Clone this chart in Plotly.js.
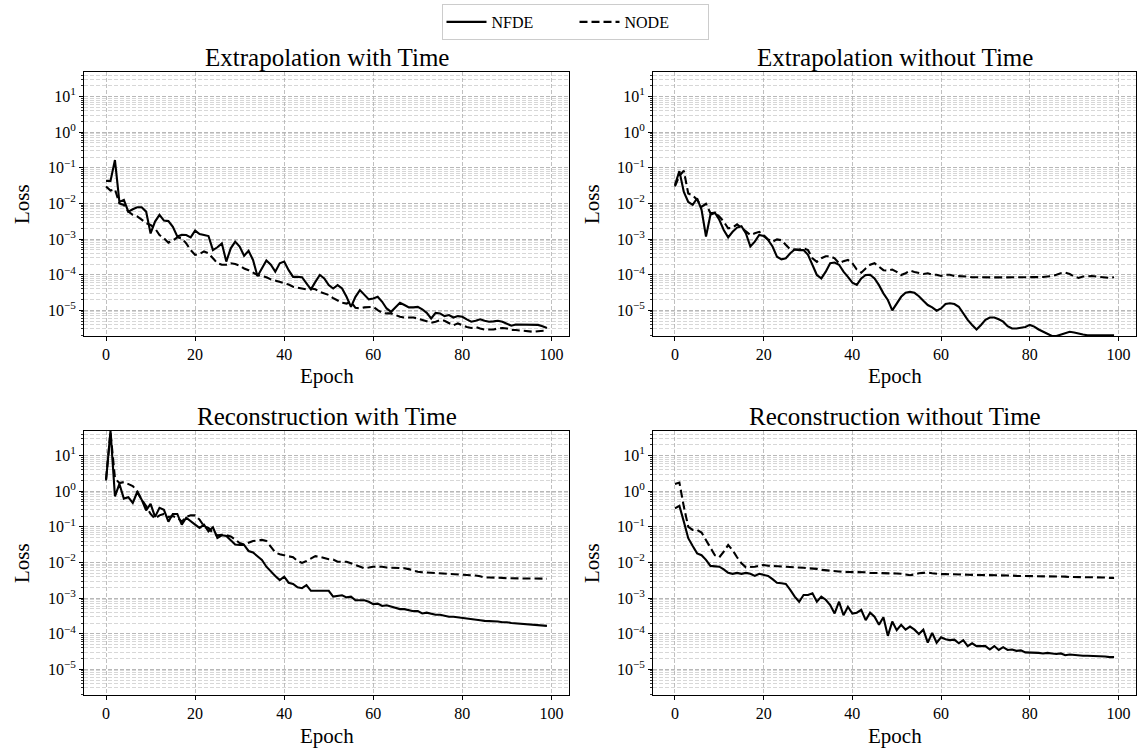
<!DOCTYPE html>
<html><head><meta charset="utf-8">
<script src="https://cdn.plot.ly/plotly-3.0.1.min.js"></script>
<style>html,body{margin:0;padding:0;background:#fff}#chart{width:1139px;height:752px}</style>
</head><body><div id="chart"></div>
<script>
const epochs = [0,1,2,3,4,5,6,7,8,9,10,11,12,13,14,15,16,17,18,19,20,21,22,23,24,25,26,27,28,29,30,31,32,33,34,35,36,37,38,39,40,41,42,43,44,45,46,47,48,49,50,51,52,53,54,55,56,57,58,59,60,61,62,63,64,65,66,67,68,69,70,71,72,73,74,75,76,77,78,79,80,81,82,83,84,85,86,87,88,89,90,91,92,93,94,95,96,97,98,99];

const seriesNames = ["NFDE", "NODE"];
const panelTitles = ["Extrapolation with Time", "Extrapolation without Time", "Reconstruction with Time", "Reconstruction without Time"];
const xTickVals = [0, 20, 40, 60, 80, 100];
const yTickVals = [10, 1, 0.1, 0.01, 0.001, 0.0001, 0.00001];
const yTickText = ["10<sup>1</sup>", "10<sup>0</sup>", "10<sup>\u22121</sup>", "10<sup>\u22122</sup>", "10<sup>\u22123</sup>", "10<sup>\u22124</sup>", "10<sup>\u22125</sup>"];

// Extrapolation with Time
const extWithNFDE = [0.043,0.043,0.165,0.011,0.0126,0.0059,0.0069,0.0078,0.0078,0.0059,
0.00144,0.0031,0.0048,0.0033,0.0032,0.0022,0.00118,0.00131,0.0013,0.00112,
0.00173,0.00139,0.0013,0.00122,0.00049,0.00059,0.00076,0.000234,0.00055,0.00085,
0.00062,0.00034,0.00047,0.00026,0.000091,0.00015,0.00025,0.00019,0.000122,0.00021,
0.000234,0.000134,0.000087,0.000087,0.000085,0.000057,0.000039,0.000063,0.000098,0.000079,
0.000051,0.000041,0.000051,0.000041,0.000024,0.0000125,0.000024,0.000037,0.000027,0.0000203,
0.0000215,0.000024,0.0000174,0.0000113,0.0000091,0.0000125,0.0000163,0.0000141,0.0000121,0.0000121,
0.0000125,0.0000107,0.0000085,0.0000059,0.0000085,0.0000082,0.0000069,0.0000074,0.0000063,0.0000069,
0.0000066,0.0000056,0.0000048,0.0000051,0.0000056,0.0000051,0.0000048,0.0000049,0.0000051,0.0000048,
0.0000043,0.0000037,0.000004,0.000004,0.0000039,0.0000039,0.0000039,0.0000039,0.0000036,0.0000032];
const extWithNODE = [0.030,0.023,0.025,0.010,0.0091,0.0059,0.0048,0.0043,0.0035,0.0028,
0.0025,0.0020,0.0013,0.00105,0.00079,0.00091,0.00112,0.00105,0.00076,0.00049,
0.00036,0.00038,0.00045,0.0004,0.00029,0.00021,0.00019,0.00019,0.00021,0.0002,
0.00018,0.00015,0.000134,0.000114,0.000098,0.000092,0.000085,0.000074,0.000068,0.000061,
0.000055,0.000053,0.000046,0.000043,0.000041,0.000039,0.000041,0.000039,0.000033,0.00003,
0.000027,0.000022,0.0000186,0.0000163,0.0000155,0.0000174,0.0000118,0.0000113,0.0000121,0.0000125,
0.0000125,0.0000102,0.0000085,0.0000082,0.0000082,0.0000074,0.0000066,0.0000063,0.0000063,0.0000063,
0.0000059,0.0000053,0.0000048,0.0000045,0.0000048,0.0000053,0.0000051,0.0000045,0.0000038,0.0000043,
0.0000038,0.0000034,0.0000032,0.0000034,0.0000031,0.0000029,0.0000029,0.0000029,0.0000031,0.0000032,
0.0000031,0.0000028,0.0000028,0.0000027,0.0000027,0.0000025,0.0000025,0.0000026,0.0000026,0.0000027];

// Extrapolation without Time
const extWithoutNFDE = [0.033,0.081,0.021,0.011,0.0091,0.014,0.0066,0.00118,0.0048,0.0055,
0.0035,0.0018,0.00112,0.0016,0.0021,0.0023,0.00145,0.00062,0.00085,0.00131,
0.00122,0.00095,0.00062,0.00032,0.00027,0.00029,0.0004,0.00051,0.00049,0.00049,
0.00036,0.00019,0.000098,0.000079,0.000122,0.00021,0.00022,0.00019,0.000122,0.000087,
0.00006,0.000052,0.000079,0.000098,0.0001,0.000079,0.000051,0.00003,0.0000195,0.00001,
0.0000158,0.000024,0.000031,0.000033,0.000031,0.000025,0.0000186,0.0000141,0.0000121,0.0000098,
0.0000113,0.0000151,0.0000158,0.000015,0.0000126,0.0000083,0.0000054,0.0000039,0.0000029,0.0000039,
0.0000054,0.0000063,0.0000063,0.0000056,0.0000048,0.0000036,0.0000031,0.0000031,0.0000032,0.0000034,
0.0000039,0.0000035,0.0000029,0.0000025,0.0000021,0.0000019,0.0000019,0.0000021,0.0000023,0.0000025,
0.0000024,0.0000022,0.0000021,0.000002,0.000002,0.000002,0.000002,0.000002,0.000002,0.000002];
const extWithoutNODE = [0.03,0.06,0.083,0.019,0.017,0.0126,0.0081,0.0098,0.0053,0.0055,
0.0043,0.0031,0.002,0.0021,0.0026,0.0021,0.0016,0.0013,0.00145,0.0016,
0.0013,0.00098,0.00085,0.00098,0.00093,0.00068,0.00051,0.00051,0.00051,0.00055,
0.00049,0.00029,0.00023,0.00029,0.00033,0.00033,0.00029,0.00021,0.00024,0.00026,
0.00021,0.00014,0.000114,0.00015,0.00019,0.00021,0.00017,0.000134,0.00013,0.00014,
0.00012,0.000098,0.00011,0.00013,0.00012,0.00011,0.000105,0.00011,0.0001,0.0001,
0.000092,0.0001,0.0001,0.000092,0.000092,0.000089,0.000089,0.000085,0.000084,0.000084,
0.000084,0.000084,0.000084,0.000084,0.000084,0.000084,0.000084,0.000085,0.000084,0.000084,
0.000084,0.000084,0.000085,0.000086,0.000089,0.000092,0.0001,0.00011,0.000114,0.000105,
0.000089,0.000081,0.000089,0.000092,0.000092,0.000089,0.000086,0.000081,0.000081,0.000085];

// Reconstruction with Time
const recWithNFDE = [2.0,50,0.72,1.6,0.62,0.68,0.47,0.95,0.58,0.29,
0.44,0.19,0.34,0.30,0.14,0.23,0.23,0.115,0.18,0.14,
0.115,0.093,0.115,0.075,0.097,0.049,0.058,0.055,0.041,0.032,
0.031,0.031,0.021,0.019,0.015,0.0117,0.0076,0.0055,0.0042,0.0032,
0.004,0.0027,0.0025,0.002,0.0019,0.0023,0.0016,0.0016,0.0016,0.0016,
0.0016,0.0011,0.00115,0.0012,0.00105,0.0011,0.00087,0.00087,0.00087,0.00079,
0.00068,0.0007,0.0006,0.00063,0.00058,0.00051,0.00049,0.00049,0.00045,0.00043,
0.00043,0.00037,0.00039,0.00036,0.00034,0.00034,0.00032,0.0003,0.0003,0.00029,
0.00028,0.00027,0.00026,0.00026,0.00024,0.00023,0.00023,0.00023,0.00022,0.00021,
0.00021,0.0002,0.000195,0.00019,0.000185,0.00018,0.000177,0.000173,0.000168,0.000166];
const recWithNODE = [2.2,45,2.3,1.7,1.8,1.6,1.4,1.0,0.58,0.38,
0.23,0.17,0.21,0.23,0.19,0.2,0.18,0.14,0.19,0.21,
0.21,0.16,0.104,0.093,0.067,0.058,0.06,0.058,0.054,0.044,
0.035,0.032,0.035,0.04,0.041,0.043,0.04,0.027,0.019,0.017,
0.016,0.015,0.014,0.011,0.0097,0.011,0.013,0.015,0.0145,0.0131,
0.0123,0.012,0.0105,0.0105,0.0105,0.0095,0.0086,0.0076,0.0069,0.0072,
0.0076,0.0076,0.0076,0.0072,0.0072,0.007,0.007,0.0069,0.0065,0.0059,
0.0055,0.0053,0.0052,0.0052,0.0052,0.005,0.005,0.0048,0.0048,0.0047,
0.0045,0.0044,0.0043,0.0043,0.0041,0.0038,0.0038,0.0038,0.0038,0.0037,
0.0036,0.0036,0.0036,0.0036,0.0036,0.0035,0.0035,0.0035,0.0035,0.0035];

// Reconstruction without Time
const recWithoutNFDE = [0.33,0.39,0.14,0.048,0.029,0.018,0.016,0.0118,0.008,0.0078,
0.0076,0.0064,0.0051,0.0048,0.0051,0.0048,0.0051,0.0048,0.0042,0.0048,
0.0045,0.0042,0.0034,0.0027,0.0026,0.0025,0.0017,0.0011,0.00079,0.00122,
0.00122,0.00136,0.00079,0.0011,0.0009,0.00064,0.00037,0.00079,0.00033,0.00057,
0.00037,0.00039,0.00047,0.00024,0.00039,0.0003,0.000178,0.00029,0.000087,0.00022,
0.000126,0.000178,0.00013,0.000158,0.00013,0.000098,0.00013,0.000056,0.000106,0.000056,
0.000079,0.00007,0.000066,0.000068,0.000054,0.000066,0.000045,0.000054,0.000045,0.000044,
0.000045,0.000036,0.000045,0.000035,0.000042,0.000035,0.000036,0.000033,0.000034,0.00003,
0.00003,0.000029,0.000029,0.000028,0.000029,0.000028,0.000027,0.000028,0.000025,0.000026,
0.000025,0.000025,0.000024,0.000024,0.000024,0.000023,0.000023,0.000023,0.000022,0.000022];
const recWithoutNODE = [1.6,1.75,0.37,0.1,0.082,0.082,0.069,0.043,0.025,0.016,
0.014,0.02,0.031,0.022,0.014,0.0095,0.0073,0.0073,0.0076,0.0081,
0.0085,0.0081,0.008,0.0078,0.0077,0.0076,0.0074,0.0074,0.0073,0.0071,
0.0069,0.0068,0.0066,0.0062,0.006,0.0058,0.0057,0.0055,0.0054,0.0054,
0.0054,0.0053,0.0053,0.0053,0.0051,0.0051,0.005,0.005,0.005,0.005,
0.0049,0.0048,0.0045,0.0044,0.0046,0.005,0.0051,0.0052,0.005,0.0048,
0.0047,0.0047,0.0047,0.0048,0.0047,0.0046,0.0045,0.0045,0.0045,0.0044,
0.0044,0.0044,0.0044,0.0043,0.0043,0.0043,0.0043,0.0042,0.0042,0.0042,
0.0041,0.0041,0.0041,0.0041,0.004,0.004,0.004,0.004,0.004,0.0039,
0.0039,0.0039,0.0039,0.0038,0.0038,0.0038,0.0038,0.0038,0.0037,0.0037];

const FONT = "Liberation Serif, Times New Roman, serif";
const panels = [
  {nfde: extWithNFDE, node: extWithNODE},
  {nfde: extWithoutNFDE, node: extWithoutNODE},
  {nfde: recWithNFDE, node: recWithNODE},
  {nfde: recWithoutNFDE, node: recWithoutNODE}
];

const W = 1139, H = 752;
const xDomains = [[84/W, 569/W], [653/W, 1136/W]];
const yDomains = [[1-336/H, 1-72/H], [1-695/H, 1-431/H]];

const traces = [];
panels.forEach((p, i) => {
  const sfx = i === 0 ? '' : String(i+1);
  traces.push({x: epochs, y: p.nfde, type: 'scatter', mode: 'lines', name: seriesNames[0],
    xaxis: 'x'+sfx, yaxis: 'y'+sfx, showlegend: i === 0, legendgroup: 'a',
    line: {color: '#000', width: 2.1, dash: 'solid'}});
  traces.push({x: epochs, y: p.node, type: 'scatter', mode: 'lines', name: seriesNames[1],
    xaxis: 'x'+sfx, yaxis: 'y'+sfx, showlegend: i === 0, legendgroup: 'b',
    line: {color: '#000', width: 2.1, dash: '8px,4px'}});
});

function xAxis(dom, anchor) {
  return {domain: dom, anchor: anchor, range: [-4.95, 103.95], tickmode: 'array', tickvals: xTickVals,
    ticks: 'outside', ticklen: 4, tickwidth: 1, tickcolor: '#000', showline: true, linecolor: '#000', linewidth: 1,
    mirror: true, showgrid: true, gridcolor: '#b0b0b0', gridwidth: 0.8, griddash: '4px,2px', zeroline: false,
    tickfont: {family: FONT, size: 16, color: '#000'}, automargin: false};
}
function yAxis(dom, anchor) {
  return {domain: dom, anchor: anchor, type: 'log', range: [-5.72, 1.69], tickmode: 'array',
    tickvals: yTickVals, ticktext: yTickText,
    ticks: 'outside', ticklen: 4, tickwidth: 1, tickcolor: '#000', showline: true, linecolor: '#000', linewidth: 1,
    mirror: true, showgrid: true, gridcolor: '#b0b0b0', gridwidth: 0.8, griddash: '4px,2px', zeroline: false,
    tickfont: {family: FONT, size: 16, color: '#000'}, automargin: false,
    minor: {dtick: 'D1', ticks: 'outside', ticklen: 2, tickcolor: '#000', tickwidth: 0.8,
      showgrid: true, gridcolor: '#c6c6c6', gridwidth: 0.7, griddash: '4px,2px'}};
}

const layout = {
  width: W, height: H, margin: {l: 0, r: 0, t: 0, b: 0},
  paper_bgcolor: '#fff', plot_bgcolor: '#fff',
  font: {family: FONT, color: '#000'},
  showlegend: true,
  legend: {orientation: 'h', x: 575/W, xanchor: 'center', y: 1-4/H, yanchor: 'top',
    bordercolor: '#cccccc', borderwidth: 1, bgcolor: '#fff', entrywidth: 78, itemwidth: 40,
    font: {family: FONT, size: 16, color: '#000'}},
  xaxis: xAxis(xDomains[0], 'y'), yaxis: yAxis(yDomains[0], 'x'),
  xaxis2: xAxis(xDomains[1], 'y2'), yaxis2: yAxis(yDomains[0], 'x2'),
  xaxis3: xAxis(xDomains[0], 'y3'), yaxis3: yAxis(yDomains[1], 'x3'),
  xaxis4: xAxis(xDomains[1], 'y4'), yaxis4: yAxis(yDomains[1], 'x4'),
  annotations: []
};

const centersX = [(84+569)/2/W, (653+1136)/2/W];
const titleY = [1-57/H, 1-416/H];
const epochY = [1-376/H, 1-736/H];
const lossX = [22/W, 592/W];
const lossY = [1-204/H, 1-563/H];
panelTitles.forEach((t, i) => {
  const c = i % 2, r = Math.floor(i / 2);
  layout.annotations.push({text: t, xref: 'paper', yref: 'paper', x: centersX[c], y: titleY[r],
    xanchor: 'center', yanchor: 'middle', showarrow: false, font: {family: FONT, size: 25, color: '#000'}});
  layout.annotations.push({text: 'Epoch', xref: 'paper', yref: 'paper', x: centersX[c], y: epochY[r],
    xanchor: 'center', yanchor: 'middle', showarrow: false, font: {family: FONT, size: 21, color: '#000'}});
  layout.annotations.push({text: 'Loss', xref: 'paper', yref: 'paper', x: lossX[c], y: lossY[r],
    xanchor: 'center', yanchor: 'middle', textangle: -90, showarrow: false, font: {family: FONT, size: 21, color: '#000'}});
});

Plotly.newPlot('chart', traces, layout, {displayModeBar: false, staticPlot: true});
</script></body></html>
